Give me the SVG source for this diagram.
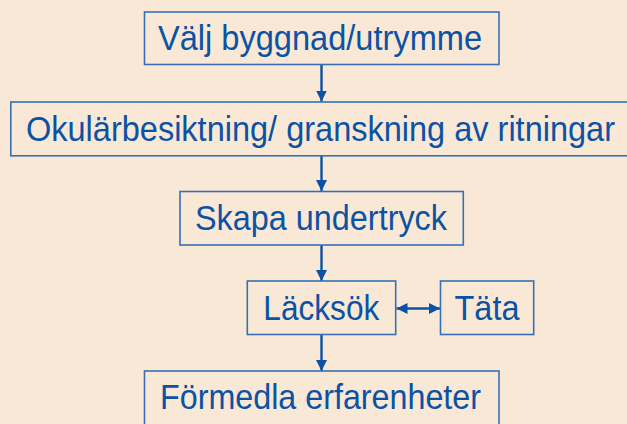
<svg xmlns="http://www.w3.org/2000/svg" width="627" height="424" viewBox="0 0 627 424">
  <style>
    .box { fill: none; stroke: #3670B4; stroke-width: 1.6; }
    .lbl { font-family: "Liberation Sans", Arial, sans-serif; font-size: 34.5px; fill: #0B52A4; text-anchor: middle; }
    .conn { stroke: #0B52A4; stroke-width: 2.4; fill: none; }
  </style>
  <defs>
    <marker id="ah" markerUnits="userSpaceOnUse" markerWidth="12" markerHeight="12" viewBox="0 0 12 12" refX="11" refY="6" orient="auto-start-reverse">
      <path d="M0,0.5 L11,6 L0,11.5 Z" fill="#0B52A4"/>
    </marker>
  </defs>
  <rect width="627" height="424" fill="#F9E8D6"/>
  <g id="connectors">
    <line class="conn" x1="321.5" y1="64" x2="321.5" y2="101.5" marker-end="url(#ah)"/>
    <line class="conn" x1="321.5" y1="156" x2="321.5" y2="191" marker-end="url(#ah)"/>
    <line class="conn" x1="321.5" y1="245" x2="321.5" y2="281" marker-end="url(#ah)"/>
    <line class="conn" x1="321.5" y1="334.5" x2="321.5" y2="371" marker-end="url(#ah)"/>
    <line class="conn" x1="396.5" y1="308.5" x2="440" y2="308.5" marker-start="url(#ah)" marker-end="url(#ah)"/>
  </g>
  <g id="node-valj">
    <rect class="box" x="144.5" y="12" width="354.5" height="52.5"/>
    <text class="lbl" x="320" y="50" textLength="324" lengthAdjust="spacingAndGlyphs">Välj byggnad/utrymme</text>
  </g>
  <g id="node-okular">
    <rect class="box" x="10.8" y="102" width="630" height="53.8"/>
    <text class="lbl" x="320.5" y="140.7" textLength="589" lengthAdjust="spacingAndGlyphs">Okulärbesiktning/ granskning av ritningar</text>
  </g>
  <g id="node-skapa">
    <rect class="box" x="180" y="191.5" width="283.3" height="53.5"/>
    <text class="lbl" x="321" y="230.3" textLength="252" lengthAdjust="spacingAndGlyphs">Skapa undertryck</text>
  </g>
  <g id="node-lacksok">
    <rect class="box" x="247.3" y="281" width="148.4" height="53.5"/>
    <text class="lbl" x="321.3" y="319.7" textLength="116" lengthAdjust="spacingAndGlyphs">Läcksök</text>
  </g>
  <g id="node-tata">
    <rect class="box" x="440.5" y="281" width="93.2" height="53.5"/>
    <text class="lbl" x="487" y="319.7" textLength="65" lengthAdjust="spacingAndGlyphs">Täta</text>
  </g>
  <g id="node-formedla">
    <rect class="box" x="144.5" y="371" width="354.5" height="70"/>
    <text class="lbl" x="320.5" y="409.3" textLength="321" lengthAdjust="spacingAndGlyphs">Förmedla erfarenheter</text>
  </g>
</svg>
